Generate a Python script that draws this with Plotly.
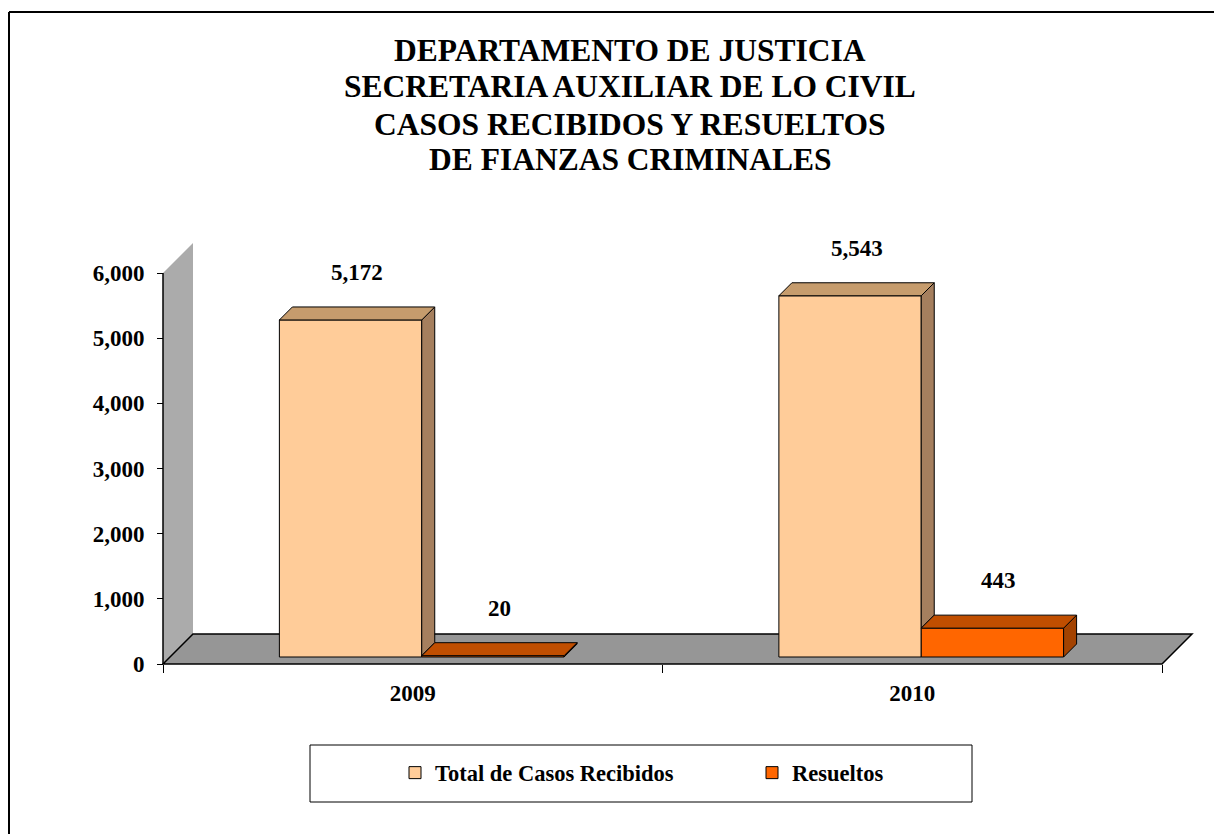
import plotly.graph_objects as go

# ---------------- data ----------------
categories = ["2009", "2010"]
total_recibidos = [5172, 5543]
resueltos = [20, 443]
series_names = ["Total de Casos Recibidos", "Resueltos"]
y_tick_vals = [0, 1000, 2000, 3000, 4000, 5000, 6000]
y_tick_text = ["0", "1,000", "2,000", "3,000", "4,000", "5,000", "6,000"]
title_lines = ["DEPARTAMENTO DE JUSTICIA",
               "SECRETARIA AUXILIAR DE LO CIVIL",
               "CASOS RECIBIDOS Y RESUELTOS",
               "DE FIANZAS CRIMINALES"]

# ---------------- geometry / style ----------------
PAGE_W, PAGE_H = 1222, 834
OFF = 8                       # default page body margin
W, H = PAGE_W, PAGE_H         # figure size (extends past the viewport edge like the reference)
FONT = "Liberation Serif"


def xp(p):  # page pixel -> paper x
    return (p - OFF) / W


def yp(q):  # page pixel -> paper y
    return 1 - (q - OFF) / H


X_ORIGIN_PX = 163 - OFF       # left edge of category axis (figure px)
CAT_PX = 499.5                # pixels per category
Y_ZERO_PX = 664 - OFF         # value 0 (front plane)
Y_MAX_PX = 273 - OFF          # value 6000 (front plane)
YMAX = 6000
ux = 1.0 / CAT_PX
uy = YMAX / (Y_ZERO_PX - Y_MAX_PX)

x_range = [-0.5 - X_ORIGIN_PX * ux, -0.5 + (W - X_ORIGIN_PX) * ux]
y_range = [-(H - Y_ZERO_PX) * uy, Y_ZERO_PX * uy]

floor_dx, floor_dy = 30 * ux, 30 * uy
bar_dx, bar_dy = 13 * ux, 13 * uy
bar_base = 7 * uy
bar_w = 0.285
offsets = [-0.267, 0.018]
front_col = ["#FFCC99", "#FF6600"]
top_col = ["#C69C6D", "#C04E00"]
side_col = ["#A57F5E", "#A34200"]
TXT = 23

series = [total_recibidos, resueltos]
xs = list(range(len(categories)))

fig = go.Figure()

# front faces as real bars
for s, vals in enumerate(series):
    fig.add_trace(go.Bar(
        x=xs, y=vals, base=[bar_base] * len(vals), width=bar_w, offset=offsets[s],
        name=series_names[s],
        marker=dict(color=front_col[s], line=dict(color="black", width=1)),
        hoverinfo="skip",
    ))

annotations = []
# top and side faces
for i in xs:
    for s, vals in enumerate(series):
        x0 = i + offsets[s]
        x1 = x0 + bar_w
        t = bar_base + vals[i]
        if s + 1 < len(series):
            sb = bar_base + series[s + 1][i]
        else:
            sb = bar_base
        fig.add_trace(go.Scatter(
            x=[x1, x1, x1 + bar_dx, x1 + bar_dx, x1],
            y=[sb, t, t + bar_dy, sb + bar_dy, sb],
            mode="lines", fill="toself", fillcolor=side_col[s],
            line=dict(color="black", width=1), showlegend=False, hoverinfo="skip"))
        fig.add_trace(go.Scatter(
            x=[x0, x1, x1 + bar_dx, x0 + bar_dx, x0],
            y=[t, t, t + bar_dy, t + bar_dy, t],
            mode="lines", fill="toself", fillcolor=top_col[s],
            line=dict(color="black", width=1), showlegend=False, hoverinfo="skip"))
        annotations.append(dict(
            x=x0 + bar_w / 2 + bar_dx / 2, y=t + bar_dy, xref="x", yref="y",
            text=f"{vals[i]:,}", showarrow=False, yanchor="bottom", yshift=20,
            font=dict(family=FONT, size=TXT, color="black", weight="bold")))

# title lines
for k, (line, yc) in enumerate(zip(title_lines, [50, 87, 124, 160])):
    annotations.append(dict(
        x=xp(630), y=yp(yc), xref="paper", yref="paper", text=line, showarrow=False,
        xanchor="center", yanchor="middle",
        font=dict(family=FONT, size=31.5, color="black", weight="bold")))

# wall and floor
wx = -0.5
wall_path = (f"M {wx},0 L {wx + floor_dx},{floor_dy} L {wx + floor_dx},{YMAX + floor_dy} "
             f"L {wx},{YMAX} Z")
xr = len(categories) - 0.5
floor_path = (f"M {wx},0 L {xr},0 L {xr + floor_dx},{floor_dy} L {wx + floor_dx},{floor_dy} Z")

shapes = [
    dict(type="path", path=wall_path, xref="x", yref="y", fillcolor="#ABABAB",
         line=dict(width=0), layer="below"),
    dict(type="path", path=floor_path, xref="x", yref="y", fillcolor="#969696",
         line=dict(color="black", width=1.5), layer="below"),
    dict(type="line", x0=wx, x1=wx, y0=0, y1=YMAX, xref="x", yref="y",
         line=dict(color="black", width=1.5)),
    # outer frame
    dict(type="line", xref="paper", yref="paper", x0=xp(9), x1=1, y0=yp(12), y1=yp(12),
         line=dict(color="black", width=2)),
    dict(type="line", xref="paper", yref="paper", x0=xp(9), x1=xp(9), y0=0, y1=yp(12),
         line=dict(color="black", width=2)),
    # legend frame
    dict(type="rect", xref="paper", yref="paper", x0=xp(310), x1=xp(972),
         y0=yp(802), y1=yp(745), line=dict(color="black", width=1)),
]

fig.update_layout(
    width=W, height=H,
    margin=dict(l=0, r=0, t=0, b=0),
    paper_bgcolor="white", plot_bgcolor="rgba(0,0,0,0)",
    font=dict(family=FONT, color="black"),
    barmode="overlay",
    hovermode=False,
    xaxis=dict(range=x_range, domain=[0, 1], anchor="free", position=(H - Y_ZERO_PX) / H,
               tickmode="array", tickvals=xs, ticktext=categories, ticks="",
               minor=dict(tickmode="array", tickvals=[-0.5 + k for k in range(len(categories) + 1)],
                          ticks="outside", ticklen=8, tickcolor="black", tickwidth=1),
               showline=False, showgrid=False, zeroline=False, ticklabelstandoff=13,
               tickfont=dict(family=FONT, size=TXT, color="black", weight="bold")),
    yaxis=dict(range=y_range, domain=[0, 1], anchor="free", position=X_ORIGIN_PX / W,
               side="left", tickmode="array", tickvals=y_tick_vals, ticktext=y_tick_text,
               ticks="outside", ticklen=6, tickcolor="black", tickwidth=1,
               showline=False, showgrid=False, zeroline=False, ticklabelstandoff=8,
               tickfont=dict(family=FONT, size=TXT, color="black", weight="bold")),
    showlegend=True,
    legend=dict(orientation="h", x=xp(395), xanchor="left", y=yp(773), yanchor="middle",
                xref="paper", yref="paper", bgcolor="rgba(0,0,0,0)", borderwidth=0,
                entrywidth=312, entrywidthmode="pixels", traceorder="normal",
                font=dict(family=FONT, size=22.5, color="black", weight="bold")),
    shapes=shapes,
    annotations=annotations,
)

fig.write_html("out.html")
